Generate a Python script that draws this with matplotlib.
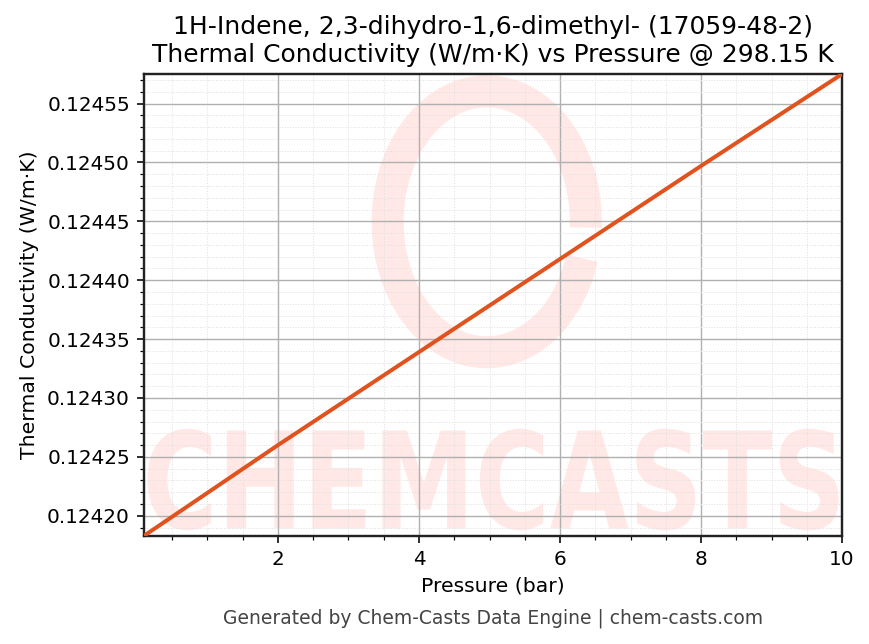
import numpy as np
import matplotlib
matplotlib.use("Agg")
from matplotlib import pyplot as plt
from matplotlib.patches import Arc, PathPatch
from matplotlib.textpath import TextPath
from matplotlib.font_manager import FontProperties
from matplotlib.ticker import MultipleLocator, FormatStrFormatter
import matplotlib.transforms as mtransforms

# values
pressure_bar = [0.1, 2.0, 4.0, 6.0, 8.0, 10.0]
conductivity = [0.124183, 0.124260, 0.124339, 0.124418, 0.124497, 0.124575]

title = "1H-Indene, 2,3-dihydro-1,6-dimethyl- (17059-48-2)\nThermal Conductivity (W/m\u00b7K) vs Pressure @ 298.15 K"
x_label = "Pressure (bar)"
y_label = "Thermal Conductivity (W/m\u00b7K)"
footer = "Generated by Chem-Casts Data Engine | chem-casts.com"

line_color = "#e0531f"
mark_color = "#ffe8e5"

fig = plt.figure(figsize=(869 / 144, 644 / 144), dpi=144)
ax = fig.add_axes([0.1657, 0.168, 0.8033, 0.717])

# watermark: brush ring + big word
ring = Arc((0.491, 0.68), 0.284, 0.565, theta1=-5, theta2=330,
           transform=ax.transAxes, color=mark_color, lw=16, zorder=0.1)
ax.add_patch(ring)

tp = TextPath((0, 0), "CHEMCASTS", size=1, prop=FontProperties(family="DejaVu Sans", weight="bold"))
bb = tp.get_extents()
sx = 0.99 / bb.width
sy = 0.22 / bb.height
tr = mtransforms.Affine2D().translate(-bb.x0, -bb.y0).scale(sx, sy).translate(0.005, 0.012) + ax.transAxes
ax.add_patch(PathPatch(tp, transform=tr, facecolor=mark_color, edgecolor="none", zorder=0.1))

ax.plot(pressure_bar, conductivity, color=line_color, lw=2, zorder=3)

ax.set_xlim(0.1, 10)
ax.set_ylim(0.124183, 0.124575)
ax.xaxis.set_major_locator(MultipleLocator(2))
ax.xaxis.set_minor_locator(MultipleLocator(0.5))
ax.yaxis.set_major_locator(MultipleLocator(0.00005))
ax.yaxis.set_minor_locator(MultipleLocator(0.00001))
ax.yaxis.set_major_formatter(FormatStrFormatter("%.5f"))

ax.set_axisbelow(True)
ax.grid(which="major", color="#b0b0b0", lw=0.7)
ax.grid(which="minor", color="#e0e0e0", lw=0.5, ls=":")
ax.tick_params(labelsize=10)

for s in ax.spines.values():
    s.set_color("#222222")
    s.set_linewidth(1.2)

ax.set_title(title, fontsize=12.5)
ax.set_xlabel(x_label, fontsize=10.2)
ax.set_ylabel(y_label, fontsize=10.2)

fig.text(0.567, 0.04, footer, ha="center", va="center", fontsize=9.4, color="#444444")

fig.savefig("out.png", dpi=144)
